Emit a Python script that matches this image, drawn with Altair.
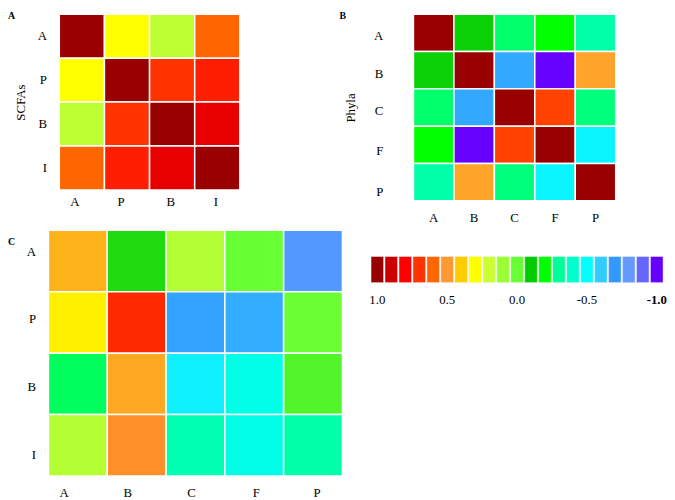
import altair as alt
import pandas as pd

# ---------------- data ----------------
scfa = ["A", "P", "B", "I"]
phyla = ["A", "B", "C", "F", "P"]

scfa_corr = [
    [1.00, 0.30, 0.17, 0.60],
    [0.30, 1.00, 0.70, 0.74],
    [0.17, 0.70, 1.00, 0.85],
    [0.60, 0.74, 0.85, 1.00],
]

phyla_corr = [
    [1.00, -0.09, -0.27, -0.20, -0.33],
    [-0.09, 1.00, -0.67, -1.00, 0.48],
    [-0.27, -0.67, 1.00, 0.67, -0.28],
    [-0.20, -1.00, 0.67, 1.00, -0.52],
    [-0.33, 0.48, -0.28, -0.52, 1.00],
]

cross_corr = [
    [0.45, -0.07, 0.15, 0.00, -0.76],
    [0.33, 0.72, -0.68, -0.66, 0.01],
    [-0.26, 0.47, -0.53, -0.45, -0.02],
    [0.15, 0.52, -0.35, -0.45, -0.33],
]

legend_colors = [
    "#990000", "#CC0000", "#FF0000", "#FF3300", "#FF6600", "#FF9933",
    "#FFCC00", "#FFFF00", "#CCFF33", "#99FF33", "#66FF33", "#00CC00",
    "#00FF00", "#00FF99", "#00FFCC", "#00FFFF", "#33CCFF", "#3399FF",
    "#6699FF", "#6666FF", "#6600FF",
]
legend_values = [(10 - i) / 10 for i in range(21)]
legend_labels = [f"{v:.1f}" for v in legend_values]
tick_labels = ["1.0", "0.5", "0.0", "-0.5", "-1.0"]

# ---------------- styling / layout ----------------
FONT = "Liberation Serif"

cscale = alt.Scale(domain=legend_values[::-1], range=legend_colors[::-1], interpolate="rgb")

# small per-label nudges so the tick labels sit where the original's do
A_x_off = {"A": -7, "P": -6, "B": -1.5, "I": -1.5}
B_y_off = {"A": 3, "B": 4, "C": 4, "F": 6, "P": 10}
C_x_off = {"A": -14, "B": -9, "C": -4, "F": 2, "P": 4}
C_y_off = {"A": -9, "P": -3, "B": 3.5, "I": 10}


def offs(d):
    return {"condition": [{"test": f"datum.value === '{k}'", "value": v} for k, v in d.items()], "value": 0}


def to_df(rows, cols, m):
    return pd.DataFrame(
        [{"row": r, "col": c, "value": m[i][j]} for i, r in enumerate(rows) for j, c in enumerate(cols)]
    )


def panel(df, rows, cols, w, h, ytitle, letter, lx, ly, ypad, xpad, tpad,
          xoff=None, yoff=None, xscale=None):
    yaxis_kw = dict(title=ytitle, ticks=False, domain=False, labelPadding=ypad, titlePadding=tpad)
    if yoff:
        yaxis_kw["labelOffset"] = offs(yoff)
    xaxis_kw = dict(title=None, labelAngle=0, ticks=False, domain=False, labelPadding=xpad)
    if xoff:
        xaxis_kw["labelOffset"] = offs(xoff)
    xkw = dict(sort=cols, axis=alt.Axis(**xaxis_kw))
    if xscale is not None:
        xkw["scale"] = xscale
    rect = alt.Chart(df).mark_rect(stroke="white", strokeWidth=1.5).encode(
        x=alt.X("col:N", **xkw),
        y=alt.Y("row:N", sort=rows, axis=alt.Axis(**yaxis_kw)),
        color=alt.Color("value:Q", scale=cscale, legend=None),
    )
    lab = alt.Chart(pd.DataFrame({"t": [letter]})).mark_text(
        align="left", baseline="top", font=FONT, fontSize=10, fontWeight="bold", color="black"
    ).encode(text="t:N", x=alt.value(lx), y=alt.value(ly))
    return alt.layer(rect, lab).properties(width=w, height=h)


# panel A shares its left origin with panel C; its cells start 11px further right
a_step = 45.75
a_shift = 11
a_pad = a_shift / a_step / 2
a_width = a_step * (4 + 2 * a_pad)
a_xscale = alt.Scale(paddingInner=0, paddingOuter=a_pad, align=1)

pA = panel(to_df(scfa, scfa, scfa_corr), scfa, scfa, a_width, 178, "SCFAs", "A", -41, -3, 2, 6, 10,
           xoff=A_x_off, xscale=a_xscale)
pB = panel(to_df(phyla, phyla, phyla_corr), phyla, phyla, 205, 189, "Phyla", "B", -75, -3, 31, 11, 16,
           yoff=B_y_off)
pC = panel(to_df(scfa, phyla, cross_corr), scfa, phyla, 298, 249, None, "C", -41, 7, 13, 11, 10,
           xoff=C_x_off, yoff=C_y_off)

label_expr = ("indexof([" + ",".join(f"'{t}'" for t in tick_labels) + "], datum.value) >= 0 ? datum.value : ''")

# the colour key sits in the lower band of a two-band strip so that it lines up lower than panel C's top
leg_df = pd.DataFrame({"lab": legend_labels, "value": legend_values, "band": ["key"] * len(legend_labels)})
legend = alt.Chart(leg_df).mark_rect(stroke="#f2f2f2", strokeWidth=0.5).encode(
    x=alt.X("lab:N", sort=legend_labels,
            scale=alt.Scale(paddingInner=0.1, paddingOuter=0),
            axis=alt.Axis(title=None, labelAngle=0, ticks=False, domain=False, labelPadding=11,
                          labelExpr=label_expr,
                          labelFontWeight={"condition": {"test": "datum.value == '-1.0'", "value": "bold"},
                                           "value": "normal"})),
    y=alt.Y("band:N", scale=alt.Scale(domain=["gap", "key"], paddingInner=0, paddingOuter=0), axis=None),
    color=alt.Color("value:Q", scale=cscale, legend=None),
).properties(width=296, height=53)

row1 = alt.hconcat(pA, pB, spacing=100)
row2 = alt.hconcat(pC, legend, spacing=25)

chart = (
    alt.vconcat(row1, row2, spacing=5)
    .properties(padding=0)
    .configure_view(strokeWidth=0)
    .configure_axis(labelFont=FONT, titleFont=FONT, labelFontSize=13, titleFontSize=13,
                    labelColor="black", titleColor="black", titleFontWeight="normal")
    .configure_title(font=FONT)
)

chart.save("out.html", embed_options={"renderer": "svg", "actions": False})
